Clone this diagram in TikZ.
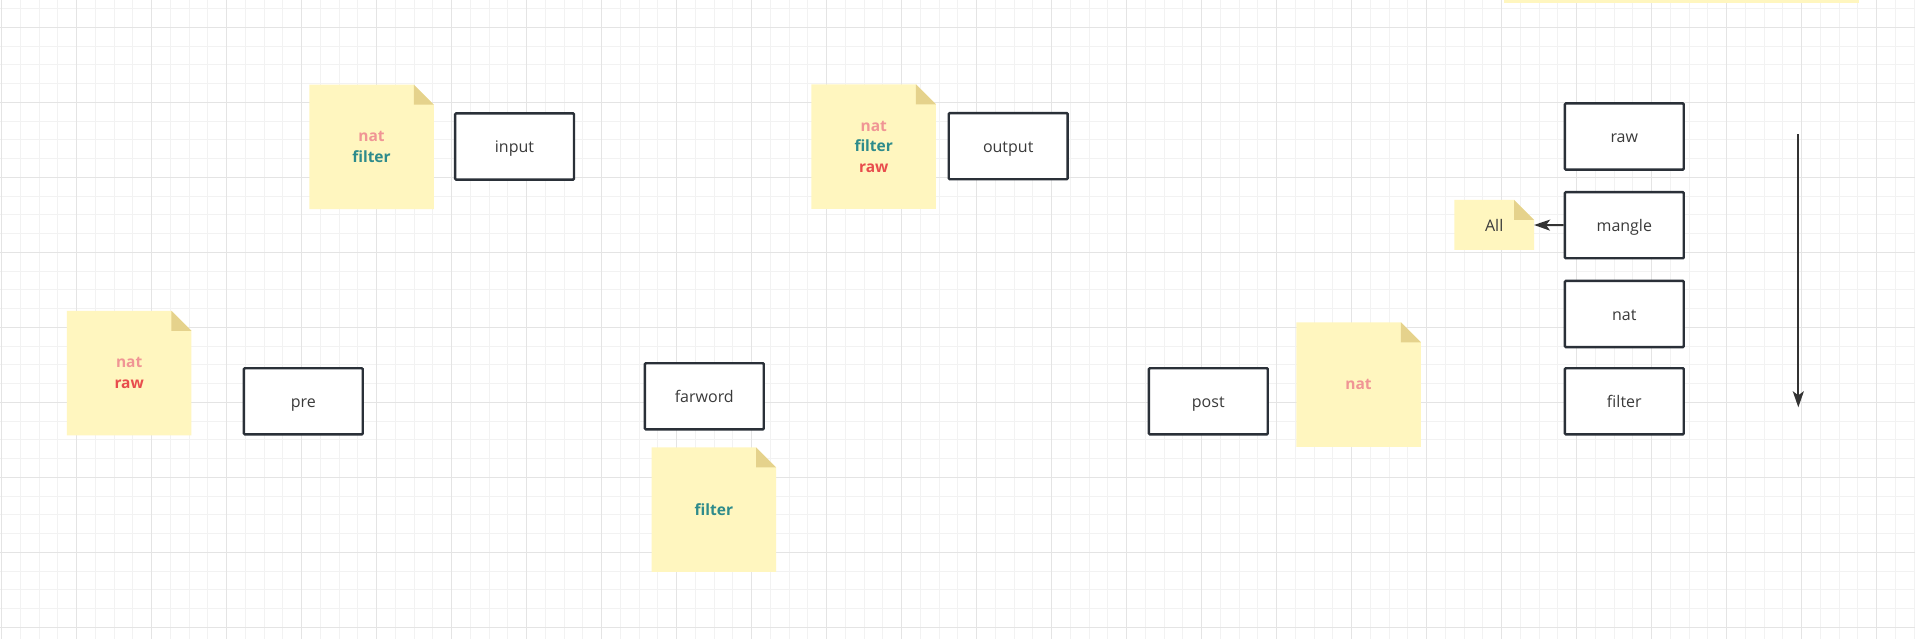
\documentclass[tikz,border=0pt]{standalone}
\usepackage{fontspec}
\setmainfont{Open Sans}
\usetikzlibrary{arrows.meta}
\definecolor{notefill}{HTML}{FFF6BF}
\definecolor{foldfill}{HTML}{E5D28C}
\definecolor{boxline}{HTML}{2A3038}
\definecolor{txt}{HTML}{3A3A3A}
\definecolor{natc}{HTML}{F09595}
\definecolor{filterc}{HTML}{2E8B8B}
\definecolor{rawc}{HTML}{E84D4D}
\definecolor{arrowc}{HTML}{333333}
\definecolor{gridminor}{HTML}{F2F2F2}
\definecolor{gridmajor}{HTML}{E4E4E4}
\pgfdeclarelayer{gridlayer}
\pgfdeclarelayer{bglayer}
\pgfsetlayers{gridlayer,bglayer,main}
\tikzset{
  procbox/.style={draw=boxline, line width=2.4pt, fill=white, rounded corners=1pt,
    minimum width=118.9pt, minimum height=66.2pt, inner sep=0pt, text=txt,
    text height=16pt, text depth=3.6pt,
    font=\fontsize{16}{20}\selectfont},
  notebox/.style={inner sep=0pt, outer sep=0pt, align=center,
    font=\fontsize{15.5}{20.5}\selectfont\bfseries},
  stickynote/.style={notebox, minimum width=124.5pt, minimum height=124.5pt},
  smallnote/.style={notebox, minimum width=79.7pt, minimum height=50pt, text=txt,
    text height=16pt, text depth=3.6pt,
    font=\fontsize{16}{20}\selectfont},
  arrowline/.style={draw=arrowc, line width=2pt, -{Stealth[length=16pt,width=11pt,inset=4pt]}},
}
\newcommand\notebg[1]{%
  \begin{pgfonlayer}{bglayer}
    \fill[notefill] (#1.south west) -- (#1.north west) -- ([xshift=-20pt]#1.north east)
      -- ([yshift=-20pt]#1.north east) -- (#1.south east) -- cycle;
    \fill[foldfill] ([xshift=-20pt]#1.north east) -- ([xshift=-20pt,yshift=-20pt]#1.north east)
      -- ([yshift=-20pt]#1.north east) -- cycle;
  \end{pgfonlayer}}
\begin{document}
\begin{tikzpicture}[x=1pt,y=-1pt]
\useasboundingbox (0,0) rectangle (1915,639);
\begin{pgfonlayer}{gridlayer}
  \fill[white] (0,0) rectangle (1915,639);
  \foreach \i in {0,...,102} {
    \draw[gridminor, line width=1pt] ({1.7+18.75*\i},0) -- ({1.7+18.75*\i},639);
  }
  \foreach \i in {0,...,34} {
    \draw[gridminor, line width=1pt] (0,{8.55+18.75*\i}) -- (1915,{8.55+18.75*\i});
  }
  \foreach \i in {0,...,25} {
    \draw[gridmajor, line width=1pt] ({1.7+75*\i},0) -- ({1.7+75*\i},639);
  }
  \foreach \i in {0,...,8} {
    \draw[gridmajor, line width=1pt] (0,{27.3+75*\i}) -- (1915,{27.3+75*\i});
  }
  \fill[notefill] (1504,0) rectangle (1859,2.7);
\end{pgfonlayer}

% sticky notes
\node[stickynote] (n1) at (371.5,146.8) {\textcolor{natc}{nat}\\\textcolor{filterc}{filter}};
\notebg{n1}
\node[stickynote] (n2) at (873.7,146.7) {\textcolor{natc}{nat}\\\textcolor{filterc}{filter}\\\textcolor{rawc}{raw}};
\notebg{n2}
\node[stickynote] (n3) at (129.2,373) {\textcolor{natc}{nat}\\\textcolor{rawc}{raw}};
\notebg{n3}
\node[stickynote] (n4) at (713.9,509.7) {\textcolor{filterc}{filter}};
\notebg{n4}
\node[stickynote] (n5) at (1358.5,384.5) {\textcolor{natc}{nat}};
\notebg{n5}
\node[smallnote] (all) at (1494.2,225) {All};
\notebg{all}

% process boxes
\node[procbox] (input) at (514.5,146.5) {input};
\node[procbox] (output) at (1008.2,146.2) {output};
\node[procbox] (pre) at (303.3,401.3) {pre};
\node[procbox] (farword) at (704.3,396.3) {farword};
\node[procbox] (post) at (1208.3,401.3) {post};
\node[procbox] (raw) at (1624.3,136.5) {raw};
\node[procbox] (mangle) at (1624.3,225.2) {mangle};
\node[procbox] (nat) at (1624.3,314) {nat};
\node[procbox] (filter) at (1624.3,401.3) {filter};

% connectors
\draw[arrowline] (mangle.west) -- (all.east);
\coordinate (vtop) at (1798.3,134.3);
\coordinate (vbot) at (1798.3,407.3);
\draw[arrowline] (vtop) -- (vbot);
\end{tikzpicture}
\end{document}
